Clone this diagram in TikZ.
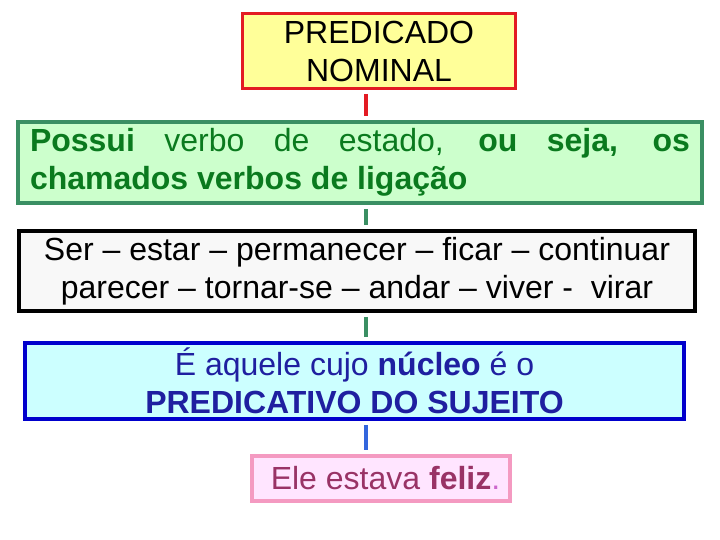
\documentclass[tikz,border=0pt]{standalone}
\usepackage{fontspec}
\setmainfont{Liberation Sans}
\usepackage{tikz}
\definecolor{boxred}{HTML}{E31B23}
\definecolor{boxyellow}{HTML}{FFFF99}
\definecolor{linegreen}{HTML}{3A8F63}
\definecolor{boxgreen}{HTML}{CCFFCC}
\definecolor{textgreen}{HTML}{0A7A1E}
\definecolor{boxgrey}{HTML}{F8F8F8}
\definecolor{lineblue}{HTML}{0000CC}
\definecolor{boxcyan}{HTML}{CCFFFF}
\definecolor{textblue}{HTML}{1F1FA0}
\definecolor{connblue}{HTML}{3366DD}
\definecolor{linepink}{HTML}{F49AC1}
\definecolor{boxpink}{HTML}{FFE5FF}
\definecolor{textpurple}{HTML}{993366}
\definecolor{dotpink}{HTML}{CC66CC}

\begin{document}
\begin{tikzpicture}[x=1pt, y=1pt,
    every node/.style={font=\fontsize{32}{38}\selectfont, inner sep=0pt},
    titlebox/.style={draw=boxred, fill=boxyellow, line width=3pt, align=center},
    infobox/.style={draw=#1, line width=4pt},
    conn/.style={line width=3.5pt, shorten <=4pt, shorten >=4pt}]
  \useasboundingbox (0,0) rectangle (720,540);
  \coordinate (spine) at (366,0);

  \node[titlebox, minimum width=273, minimum height=75] at (379,489) (nominal) {PREDICADO\\NOMINAL};
  \node[infobox=linegreen, fill=boxgreen, text=textgreen, text width=660, inner xsep=12,
        minimum height=81, align=justify] at (360,377.5) (estado)
        {\textbf{Possui} verbo de estado, \textbf{ou seja, os}\linebreak
         \textbf{chamados verbos de ligação}};
  \node[infobox=black, fill=boxgrey, minimum width=676, minimum height=80, align=center] at (357,269) (verbos)
        {Ser – estar – permanecer – ficar – continuar\\parecer – tornar-se – andar – viver -\ \ virar};
  \node[infobox=lineblue, fill=boxcyan, text=textblue, minimum width=659, minimum height=76, align=center] at (354.5,159) (nucleo)
        {É aquele cujo \textbf{núcleo} é o\\\textbf{PREDICATIVO DO SUJEITO}};
  \node[infobox=linepink, fill=boxpink, text=textpurple, minimum width=258, minimum height=45] at (381,61.5) (exemplo)
        {\hspace{9pt}Ele estava \textbf{feliz}\textcolor{dotpink}{.}};

  % ligacoes entre as caixas
  \draw[conn, boxred] (nominal.south -| spine) -- (estado.north -| spine);
  \draw[conn, linegreen] (estado.south -| spine) -- (verbos.north -| spine);
  \draw[conn, linegreen] (verbos.south -| spine) -- (nucleo.north -| spine);
  \draw[conn, connblue] (nucleo.south -| spine) -- (exemplo.north -| spine);
\end{tikzpicture}
\end{document}
